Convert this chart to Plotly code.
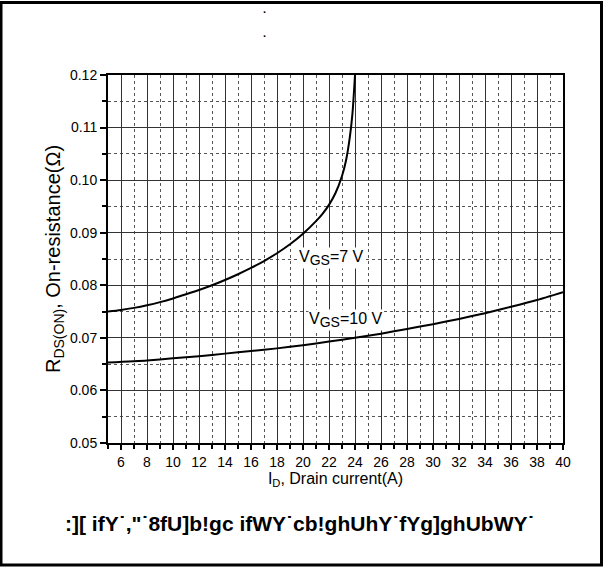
import plotly.graph_objects as go

# Data
id_7v = [5, 6, 7, 8, 9, 10, 11, 12, 13, 14, 15, 16, 17, 18, 19, 20, 21, 21.5, 22, 22.5, 23, 23.3, 23.6, 23.8, 24.0]
r_7v = [0.0750, 0.0753, 0.0757, 0.0762, 0.0768, 0.0775, 0.0783, 0.0791, 0.0800, 0.0810, 0.0821, 0.0833,
        0.0846, 0.0861, 0.0878, 0.0898, 0.0922, 0.0936, 0.0953, 0.09755, 0.1008, 0.10365, 0.10815,
        0.11255, 0.1200]

id_10v = [5, 8, 10, 12, 14, 16, 18, 20, 22, 24, 26, 28, 30, 32, 34, 36, 38, 40]
r_10v = [0.0653, 0.0657, 0.0661, 0.0665, 0.0670, 0.0675, 0.0680, 0.0686, 0.0693, 0.0700,
         0.0708, 0.0717, 0.0726, 0.0736, 0.0747, 0.0759, 0.0772, 0.0787]

x_range = [5, 40]
y_range = [0.05, 0.12]
x_ticks = list(range(6, 41, 2))
x_ticklabels = [str(v) for v in x_ticks]
y_ticks = [0.05, 0.06, 0.07, 0.08, 0.09, 0.10, 0.11, 0.12]
y_ticklabels = ["0.05", "0.06", "0.07", "0.08", "0.09", "0.10", "0.11", "0.12"]

label_7v = "V<sub><span style='font-size:14px'>GS</span></sub>=7 V"
label_10v = "V<sub><span style='font-size:14px'>GS</span></sub>=10 V"
x_title = "I<sub>D</sub>, Drain current(A)"
y_title = "R<sub>DS(ON)</sub>, On-resistance(Ω)"
bottom_text = ':][ ifY˙,"˙8fU]b!gc ifWY˙cb!ghUhY˙fYg]ghUbWY˙'
top_marks = [".", "."]

FONT = "Arial, Liberation Sans, sans-serif"

fig = go.Figure()
fig.add_trace(go.Scatter(x=id_7v, y=r_7v, mode="lines",
                         line=dict(color="black", width=2, shape="spline", smoothing=0.8),
                         showlegend=False, hoverinfo="skip"))
fig.add_trace(go.Scatter(x=id_10v, y=r_10v, mode="lines",
                         line=dict(color="black", width=2, shape="spline", smoothing=0.6),
                         showlegend=False, hoverinfo="skip"))

L, R, T, B = 108, 40, 75, 124
W, H = 603, 567
pw, ph = W - L - R, H - T - B

def px(xp):
    return (xp - L) / pw

def py(yp):
    return (H - B - yp) / ph

fig.update_layout(
    width=W, height=H,
    margin=dict(l=L, r=R, t=T, b=B),
    paper_bgcolor="white", plot_bgcolor="white",
    font=dict(family=FONT, color="black", size=14),
    xaxis=dict(
        range=x_range, tickmode="array", tickvals=x_ticks, ticktext=x_ticklabels,
        showline=True, linecolor="black", linewidth=2, mirror=True,
        ticks="outside", ticklen=5, tickwidth=1.5, tickcolor="black",
        showgrid=True, gridcolor="#333333", gridwidth=1.2,
        zeroline=False,
        minor=dict(dtick=1, tick0=0, showgrid=True, gridcolor="#555555", griddash="dot", gridwidth=1,
                   ticks="outside", ticklen=4, tickcolor="black"),
        tickfont=dict(size=14),
        title=dict(text=x_title, font=dict(size=16), standoff=0),
    ),
    yaxis=dict(
        range=y_range, tickmode="array", tickvals=y_ticks, ticktext=y_ticklabels,
        showline=True, linecolor="black", linewidth=2, mirror=True,
        ticks="outside", ticklen=6, tickwidth=1.5, tickcolor="black",
        showgrid=True, gridcolor="#333333", gridwidth=1.2,
        zeroline=False,
        minor=dict(dtick=0.005, tick0=0, showgrid=True, gridcolor="#555555", griddash="dot", gridwidth=1,
                   ticks="outside", ticklen=4, tickcolor="black"),
        tickfont=dict(size=14),
        title=dict(text=y_title, font=dict(size=20), standoff=4),
    ),
    annotations=[
        dict(x=22.2, y=0.0852, xref="x", yref="y", text=label_7v, showarrow=False,
             font=dict(size=16), bgcolor="white", borderpad=0),
        dict(x=23.3, y=0.0734, xref="x", yref="y", text=label_10v, showarrow=False,
             font=dict(size=16), bgcolor="white", borderpad=0),
        dict(x=px(264), y=py(1), xref="paper", yref="paper", text="<b>" + top_marks[0] + "</b>",
             showarrow=False, font=dict(size=11), xanchor="center", yanchor="top"),
        dict(x=px(264), y=py(25), xref="paper", yref="paper", text="<b>" + top_marks[1] + "</b>",
             showarrow=False, font=dict(size=11), xanchor="center", yanchor="top"),
        dict(x=px(300), y=py(523), xref="paper", yref="paper", text="<b>" + bottom_text + "</b>",
             showarrow=False, font=dict(size=21), xanchor="center", yanchor="middle"),
    ],
    shapes=[
        dict(type="rect", xref="paper", yref="paper", x0=px(1), x1=px(601.5), y0=py(2.5), y1=py(565),
             line=dict(color="black", width=3), layer="above"),
    ],
)

fig.write_html("out.html")
